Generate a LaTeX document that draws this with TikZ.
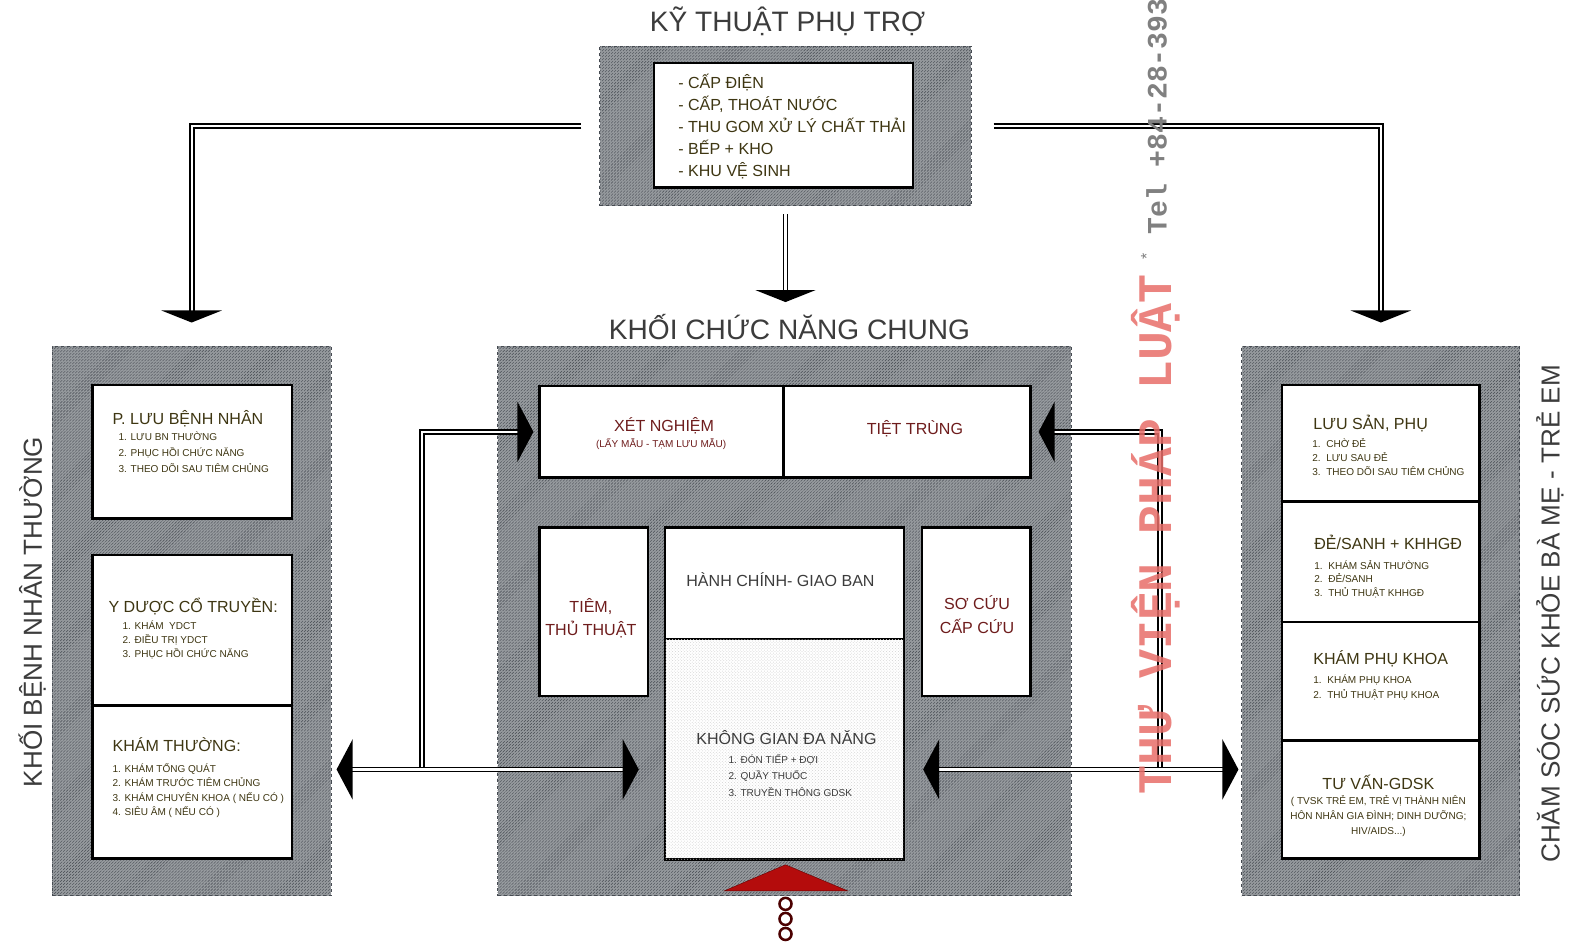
\documentclass[tikz,border=0pt]{standalone}
\usepackage{fontspec}
\setmainfont{Liberation Sans}
\newfontfamily\wmfont{Liberation Mono}
\usetikzlibrary{positioning,fit,patterns,arrows.meta}
\definecolor{khung}{RGB}{150,154,158}
\definecolor{soc}{RGB}{70,75,82}
\definecolor{chuoliu}{RGB}{62,54,18}
\definecolor{doden}{RGB}{110,28,28}
\definecolor{tieude}{RGB}{60,60,60}
\definecolor{dauvao}{RGB}{180,12,12}
\definecolor{dauchu}{RGB}{232,110,105}

\begin{document}
\begin{tikzpicture}[x=1pt, y=-1pt,
    khu/.style = {draw=soc, dashed, line width=1pt, inner sep=0pt,
      preaction={fill=khung}, pattern=north east lines, pattern color=soc},
    phong/.style = {draw=black, line width=2.5pt, fill=white, inner sep=0pt},
    tenlon/.style = {font=\fontsize{28}{32}\selectfont, text=tieude, inner sep=0pt},
    ten/.style = {font=\fontsize{16}{20}\selectfont, text=chuoliu, inner sep=0pt, align=left},
    muc/.style = {font=\fontsize{10}{14.5}\selectfont, text=chuoliu, inner sep=0pt, align=left},
    ong/.style = {draw=black, line width=1.8pt, double=white, double distance=2.2pt},
    muixuong/.style = {-{Triangle[length=12pt,width=60pt]}},
    muingang/.style = {-{Triangle[length=16pt,width=60pt]}},
    haimui/.style = {{Triangle[length=16pt,width=60pt]}-{Triangle[length=16pt,width=60pt]}}
  ]
  \path[use as bounding box, fill=white] (0,0) rectangle (1568,945);

  % ky thuat phu tro
  \node[tenlon] (tdKT) at (785,21) {KỸ THUẬT PHỤ TRỢ};
  \node[khu, fit={(598,46) (968,205)}] (vungKT) {};
  \node[phong, fit={(652,63) (910,187)}] (phongKT) {};
  \node[ten, anchor=west, font=\fontsize{16}{21.8}\selectfont] (dsKT) at (676,126)
    {- CẤP ĐIỆN\\- CẤP, THOÁT NƯỚC\\- THU GOM XỬ LÝ CHẤT THẢI\\- BẾP + KHO\\- KHU VỆ SINH};

  % khoi benh nhan thuong
  \node[khu, fit={(52,345) (330,893)}] (vungBN) {};
  \node[tenlon, rotate=90, font=\fontsize{26}{30}\selectfont] (tdBN) at (32,610) {KHỐI BỆNH NHÂN THƯỜNG};
  \node[phong, fit={(92,384) (291,517)}] (luuBN) {};
  \node[phong, fit={(92,553) (291,703)}] (ydct) {};
  \node[phong, fit={(92,703) (291,856)}] (khamT) {};
  \node[ten, anchor=west] (luuBN-t) at (112,417) {P. LƯU BỆNH NHÂN};
  \node[muc, anchor=west, font=\fontsize{10}{16}\selectfont] (luuBN-m) at (118,451)
    {1. LƯU BN THƯỜNG\\2. PHỤC HỒI CHỨC NĂNG\\3. THEO DÕI SAU TIÊM CHỦNG};
  \node[ten, anchor=west] (ydct-t) at (108,605) {Y DƯỢC CỔ TRUYỀN:};
  \node[muc, anchor=west, font=\fontsize{10}{14}\selectfont] (ydct-m) at (122,638)
    {1. KHÁM\ \ YDCT\\2. ĐIỀU TRỊ YDCT\\3. PHỤC HỒI CHỨC NĂNG};
  \node[ten, anchor=west] (khamT-t) at (112,742) {KHÁM THƯỜNG:};
  \node[muc, anchor=west] (khamT-m) at (112,788)
    {1. KHÁM TỔNG QUÁT\\2. KHÁM TRƯỚC TIÊM CHỦNG\\3. KHÁM CHUYÊN KHOA ( NẾU CÓ )\\4. SIÊU ÂM ( NẾU CÓ )};

  % khoi chuc nang chung
  \node[tenlon] (tdCN) at (787,326) {KHỐI CHỨC NĂNG CHUNG};
  \node[khu, fit={(496,345) (1068,893)}] (vungCN) {};
  \node[phong, fit={(538,385) (781,476)}] (xetNg) {};
  \node[phong, fit={(781,385) (1027,476)}] (tietTr) {};
  \node[phong, fit={(538,526) (646,694)}] (tiem) {};
  \node[phong, fit={(663,526) (901,637)}] (hanhCh) {};
  \node[phong, fit={(663,637) (901,857)}, postaction={pattern=crosshatch dots, pattern color=gray!35}] (kgDN) {};
  \node[phong, fit={(919,526) (1027,694)}] (soCuu) {};
  \node[ten, text=doden] (xetNg-t) at (662,424) {XÉT NGHIỆM};
  \node[muc, text=doden] (xetNg-m) at (659,443) {(LẤY MẪU - TẠM LƯU MẪU)};
  \node[ten, text=doden] (tietTr-t) at (912,427) {TIỆT TRÙNG};
  \node[ten, text=doden, align=center, font=\fontsize{16}{23}\selectfont] (tiem-t) at (589,616) {TIÊM,\\THỦ THUẬT};
  \node[ten, text=tieude] (hanhCh-t) at (778,578) {HÀNH CHÍNH- GIAO BAN};
  \node[ten, text=doden, align=center, font=\fontsize{16}{24}\selectfont] (soCuu-t) at (974,613) {SƠ CỨU\\CẤP CỨU};
  \node[ten, text=tieude] (kgDN-t) at (784,735) {KHÔNG GIAN ĐA NĂNG};
  \node[muc, text=tieude, anchor=west, font=\fontsize{10}{16.5}\selectfont] (kgDN-m) at (726,773)
    {1. ĐÓN TIẾP + ĐỢI\\2. QUẦY THUỐC\\3. TRUYỀN THÔNG GDSK};
  \fill[dauvao, draw=red!40!black] (722,888) -- (783,862) -- (845,888) -- cycle;
  \foreach \y in {901,916,931}
    \draw[line width=2.5pt, draw=red!30!black] (783,\y) circle (6pt);

  % cham soc suc khoe ba me - tre em
  \node[khu, fit={(1238,345) (1515,893)}] (vungSK) {};
  \node[tenlon, rotate=90, font=\fontsize{26}{30}\selectfont] (tdSK) at (1545,612) {CHĂM SÓC SỨC KHỎE BÀ MẸ - TRẺ EM};
  \node[phong, fit={(1278,384) (1475,500)}] (luuSan) {};
  \node[phong, fit={(1278,500) (1475,620)}] (deSanh) {};
  \node[phong, fit={(1278,620) (1475,738)}] (khamPK) {};
  \node[phong, fit={(1278,738) (1475,856)}] (tuVan) {};
  \node[ten, anchor=west] (luuSan-t) at (1309,422) {LƯU SẢN, PHỤ};
  \node[muc, anchor=west, font=\fontsize{10}{14}\selectfont] (luuSan-m) at (1308,456)
    {1.\ \ CHỜ ĐẺ\\2.\ \ LƯU SAU ĐẺ\\3.\ \ THEO DÕI SAU TIÊM CHỦNG};
  \node[ten, anchor=west] (deSanh-t) at (1310,541) {ĐẺ/SANH + KHHGĐ};
  \node[muc, anchor=west, font=\fontsize{10}{13.5}\selectfont] (deSanh-m) at (1310,577)
    {1.\ \ KHÁM SẢN THƯỜNG\\2.\ \ ĐẺ/SANH\\3.\ \ THỦ THUẬT KHHGĐ};
  \node[ten, anchor=west] (khamPK-t) at (1309,657) {KHÁM PHỤ KHOA};
  \node[muc, anchor=west, font=\fontsize{10}{15}\selectfont] (khamPK-m) at (1309,685)
    {1.\ \ KHÁM PHỤ KHOA\\2.\ \ THỦ THUẬT PHỤ KHOA};
  \node[ten] (tuVan-t) at (1374,780) {TƯ VẤN-GDSK};
  \node[muc, align=center, font=\fontsize{10}{15}\selectfont] (tuVan-m) at (1374,813)
    {( TVSK TRẺ EM, TRẺ VỊ THÀNH NIÊN\\HÔN NHÂN GIA ĐÌNH; DINH DƯỠNG;\\HIV/AIDS...)};

  \coordinate (reT) at (421,767);
  \coordinate (reP) at (1156,767);
  \draw[ong, muixuong, shorten <=18pt, shorten >=23pt] (vungKT.west) -| (vungBN.north);
  \draw[ong, muixuong, shorten <=8pt, shorten >=12pt] (vungKT.south) -- (vungKT.south |- tdCN.north);
  \draw[ong, muixuong, shorten <=22pt, shorten >=23pt] (vungKT.east) -| (vungSK.north);
  \draw[ong, muingang, shorten >=5pt] (reT) |- (xetNg.west);
  \draw[ong, haimui, shorten <=5pt, shorten >=25pt] (vungBN.east |- reT) -- (kgDN.west |- reT);
  \draw[ong, muingang, shorten >=7pt] (reP) |- (tietTr.east);
  \draw[ong, haimui, shorten <=3pt, shorten >=18pt] (vungSK.west |- reP) -- (kgDN.east |- reP);

  \node[rotate=90, anchor=west, text=dauchu, opacity=0.85, inner sep=0pt,
    font=\wmfont\bfseries\fontsize{48}{48}\selectfont] (wm1) at (1152,792) {THƯ VIỆN PHÁP LUẬT};
  \node[rotate=90, text=gray, inner sep=0pt, font=\fontsize{16}{16}\selectfont] (wm2) at (1143,256) {*};
  \node[rotate=90, anchor=west, text=gray, inner sep=0pt,
    font=\wmfont\bfseries\fontsize{28}{28}\selectfont] (wm3) at (1153,234) {Tel +84-28-393};
\end{tikzpicture}
\end{document}
